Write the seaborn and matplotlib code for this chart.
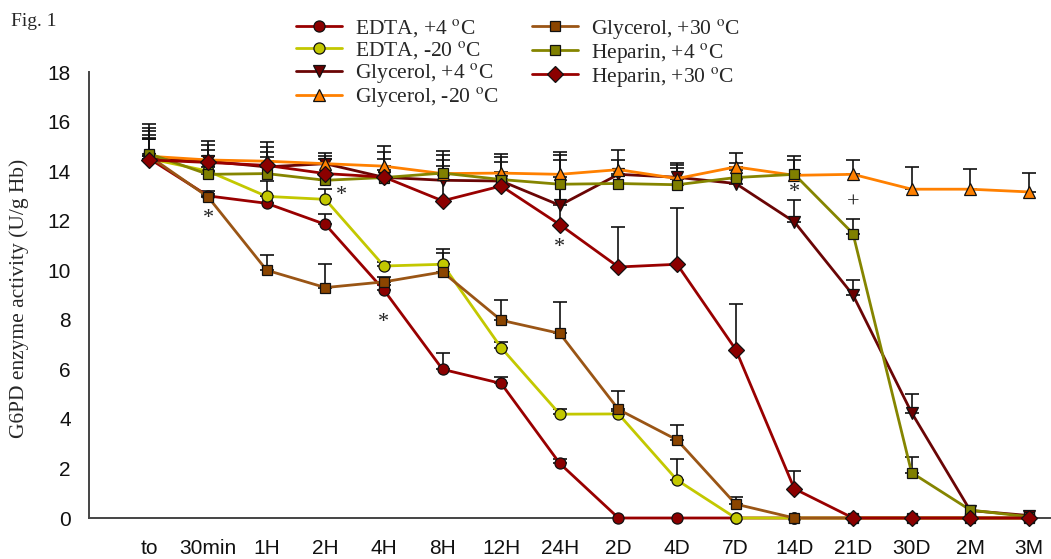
import numpy as np
import pandas as pd
import matplotlib
matplotlib.use("Agg")
import matplotlib.pyplot as plt
import seaborn as sns

timepoints = ['to', '30min', '1H', '2H', '4H', '8H', '12H', '24H', '2D', '4D',
              '7D', '14D', '21D', '30D', '2M', '3M']

series_names = ['EDTA, +4 $^{\\mathrm{o}}$C', 'EDTA, -20 $^{\\mathrm{o}}$C',
                'Glycerol, +4 $^{\\mathrm{o}}$C', 'Glycerol, -20 $^{\\mathrm{o}}$C',
                'Glycerol, +30 $^{\\mathrm{o}}$C', 'Heparin, +4 $^{\\mathrm{o}}$C',
                'Heparin, +30 $^{\\mathrm{o}}$C']

edta_p4 = [14.5, 13.0, 12.7, 11.85, 9.2, 6.0, 5.43, 2.2, 0, 0, 0, 0, 0, 0, 0, 0]
edta_m20 = [14.5, 14.0, 12.98, 12.86, 10.17, 10.24, 6.87, 4.19, 4.2, 1.53, 0, 0, 0, 0, 0, 0]
gly_p4 = [14.5, 14.4, 14.17, 14.3, 13.75, 13.63, 13.6, 12.62, 13.87, 13.75, 13.5, 11.95, 9.0, 4.25, 0.3, 0.1]
gly_m20 = [14.6, 14.45, 14.4, 14.3, 14.2, 13.9, 13.92, 13.87, 14.06, 13.7, 14.17, 13.83, 13.87, 13.27, 13.27, 13.16]
gly_p30 = [14.6, 12.96, 10.0, 9.3, 9.53, 9.93, 7.98, 7.45, 4.38, 3.15, 0.56, 0, 0, 0, 0, 0]
hep_p4 = [14.7, 13.87, 13.9, 13.63, 13.74, 13.92, 13.66, 13.47, 13.5, 13.45, 13.74, 13.87, 11.48, 1.83, 0.32, 0.05]
hep_p30 = [14.45, 14.35, 14.23, 13.9, 13.76, 12.8, 13.4, 11.84, 10.13, 10.24, 6.8, 1.18, 0, 0, 0, 0]

edta_p4_err = [1.1, 0.2, 0.3, 0.4, 0.2, 0.65, 0.25, 0.18, 0, 0, 0, 0, 0, 0, 0, 0]
edta_m20_err = [0.95, 0.6, 0.62, 0.4, 0.15, 0.6, 0.25, 0.2, 0.1, 0.85, 0, 0, 0, 0, 0, 0]
gly_p4_err = [1.4, 0.8, 1.0, 0.45, 1.25, 1.03, 1.08, 2.15, 0.97, 0.58, 0.83, 0.9, 0.62, 0.75, 0, 0]
gly_m20_err = [1.15, 0.4, 0.36, 0.33, 0.3, 0.53, 0.45, 0.57, 0.38, 0.53, 0.56, 0.61, 0.56, 0.9, 0.8, 0.76]
gly_p30_err = [0.7, 0.1, 0.63, 0.97, 0.2, 0.77, 0.8, 1.27, 0.75, 0.6, 0.3, 0, 0, 0, 0, 0]
hep_p4_err = [0.6, 0.3, 0.65, 0.3, 0.3, 0.28, 0.3, 0.3, 0.3, 0.69, 0.3, 0.73, 0.6, 0.64, 0, 0]
hep_p30_err = [0.9, 0.7, 0.74, 0.57, 1.0, 2.0, 1.15, 2.8, 1.62, 2.29, 1.83, 0.73, 0, 0, 0, 0]

sig_labels = ['*', '*', '*', '*', '*', '+']
sig_times = ['30min', '2H', '4H', '24H', '14D', '21D']
sig_values = [12.1, 13.0, 7.9, 10.9, 13.15, 12.7]

values = [edta_p4, edta_m20, gly_p4, gly_m20, gly_p30, hep_p4, hep_p30]
errors = [edta_p4_err, edta_m20_err, gly_p4_err, gly_m20_err, gly_p30_err, hep_p4_err, hep_p30_err]
colors = ['#8B0000', '#C3C800', '#6A0000', '#FF8000', '#8B4500', '#808000', '#8B0000']
line_colors = ['#990000', '#C3C800', '#6A0505', '#FF8000', '#9A5515', '#858500', '#990000']
markers = ['o', 'o', 'v', '^', 's', 's', 'D']
msizes = [8, 8, 8.5, 8.5, 7.5, 7.5, 8]

sns.set_style("white")
plt.rcParams['font.family'] = ['Liberation Sans', 'DejaVu Sans']
plt.rcParams['mathtext.fontset'] = 'stix'

fig = plt.figure(figsize=(10.51, 5.59), dpi=100)
ax = fig.add_axes([89 / 1051, 41 / 559, 961 / 1051, 446 / 559])

x = np.arange(len(timepoints))
for name, vals, errs, c, lc, m, ms in zip(series_names, values, errors, colors,
                                          line_colors, markers, msizes):
    df = pd.DataFrame({'t': x, 'v': vals})
    e = np.array(errs)
    idx = e > 0
    ax.errorbar(x[idx], np.array(vals)[idx],
                yerr=[np.zeros(idx.sum()), e[idx]], fmt='none',
                ecolor='#111111', elinewidth=1.2, capsize=4.8, capthick=1.2, zorder=2)
    sns.lineplot(data=df, x='t', y='v', ax=ax, color=lc, linewidth=2,
                 marker=m, markersize=ms, markerfacecolor=c,
                 markeredgecolor='#111111', markeredgewidth=0.9,
                 label=name, clip_on=False, zorder=3)

for lab, t, v in zip(sig_labels, sig_times, sig_values):
    ax.text(timepoints.index(t) + (0.27 if t == '2H' else 0), v, lab,
            ha='center', va='center', fontsize=16,
            family=['Liberation Serif', 'DejaVu Serif'], color='#222222')

ax.set_xlim(-1.03, 15.36)
ax.set_ylim(0, 18)
ax.set_xticks(x)
ax.set_xticklabels(timepoints)
ax.set_yticks(np.arange(0, 19, 2))
ax.tick_params(axis='both', direction='out', length=5, width=1.2,
               color='#333333', labelsize=15, labelcolor='#111111')
ax.tick_params(axis='x', pad=10)
ax.tick_params(axis='y', pad=8)
sns.despine(ax=ax)
for s in ['left', 'bottom']:
    ax.spines[s].set_color('#444444')
    ax.spines[s].set_linewidth(1.4)
ax.set_xlabel('')
ax.set_ylabel('')

fig.text(19 / 1051, 1 - 298 / 559, 'G6PD enzyme activity (U/g Hb)', fontsize=15.5,
         family=['Liberation Serif', 'DejaVu Serif'], rotation=90,
         ha='center', va='center')

leg = ax.legend(ncol=2, frameon=False, loc='upper left',
                bbox_to_anchor=(0.273, 0.985), bbox_transform=fig.transFigure,
                prop={'family': 'Liberation Serif', 'size': 15.5},
                handlelength=2.15, handletextpad=0.6, columnspacing=1.55,
                labelspacing=0.0, borderaxespad=0)

fig.text(0.01, 0.962, 'Fig. 1', fontsize=14,
         family=['Liberation Serif', 'DejaVu Serif'], va='center', ha='left')

fig.savefig('out.png', dpi=100)
